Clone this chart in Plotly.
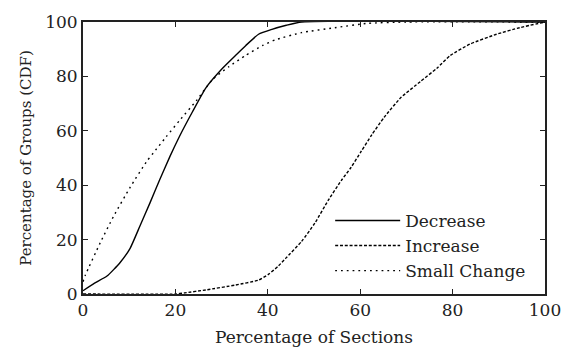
import plotly.graph_objects as go

dec_x = [0, 2.5, 5.2, 8.0, 10.2, 12.3, 14.5, 16.6, 18.8, 20.9, 23.7, 26.6, 30.2, 33.0, 35.2, 38.0, 40.9, 44.0, 47.3, 100]
dec_y = [1.2, 4.0, 6.6, 11.5, 16.8, 24.9, 33.5, 42.0, 50.5, 58.0, 67.0, 75.8, 83.0, 87.7, 91.3, 95.5, 97.3, 98.8, 100, 100]

inc_x = [0, 20.0, 22.0, 26.6, 33.0, 38.0, 40.2, 42.3, 43.8, 47.3, 50.2, 53.1, 55.9, 58.0, 60.2, 62.5, 65.2, 68.8, 73.1, 76.6, 79.5, 83.8, 89.5, 94.5, 100]
inc_y = [0, 0, 0.4, 1.5, 3.3, 5.1, 7.3, 10.3, 13.0, 19.3, 26.1, 34.5, 41.7, 46.5, 52.4, 58.5, 65.0, 72.2, 78.2, 83.0, 87.7, 91.9, 95.5, 97.9, 100]

sc_x = [0, 0.5, 3.75, 6.6, 10.2, 13.8, 15.2, 18.0, 20.9, 24.5, 28.0, 31.6, 35.2, 38.8, 41.6, 47.3, 54.5, 61.6, 70, 100]
sc_y = [4.5, 6.9, 18.9, 28.5, 39.2, 48.8, 51.8, 57.8, 63.8, 71.0, 78.8, 83.6, 87.7, 91.3, 93.4, 96.1, 97.9, 99.5, 100, 100]

x_ticks = [0, 20, 40, 60, 80, 100]
y_ticks = [0, 20, 40, 60, 80, 100]

FONT = "DejaVu Serif"
fig = go.Figure()
fig.add_trace(go.Scatter(x=dec_x, y=dec_y, mode="lines", name="Decrease",
                         line=dict(color="black", width=1.4, shape="spline", smoothing=0.5)))
fig.add_trace(go.Scatter(x=inc_x, y=inc_y, mode="lines", name="Increase",
                         line=dict(color="black", width=1.4, dash="3px,1.8px", shape="spline", smoothing=0.5)))
fig.add_trace(go.Scatter(x=sc_x, y=sc_y, mode="lines", name="Small Change",
                         line=dict(color="black", width=1.4, dash="1.8px,4px", shape="spline", smoothing=0.5)))

axis_common = dict(showline=True, linecolor="#222", linewidth=2, mirror="ticks",
                   ticks="inside", ticklen=5, tickwidth=1.2, tickcolor="#222",
                   showgrid=False, zeroline=False,
                   tickfont=dict(family=FONT, size=17, color="#222"))
fig.update_xaxes(range=[0, 100], tickvals=x_ticks,
                 title=dict(text="Percentage of Sections", font=dict(family=FONT, size=17, color="#222"), standoff=12),
                 **axis_common)
fig.update_yaxes(range=[0, 100], tickvals=y_ticks,
                 title=dict(text="Percentage of Groups (CDF)", font=dict(family=FONT, size=15, color="#222"), standoff=10),
                 **axis_common)

fig.update_layout(
    width=573, height=356,
    margin=dict(l=83, r=24, t=17, b=60),
    plot_bgcolor="white", paper_bgcolor="white",
    font=dict(family=FONT, size=17, color="#222"),
    legend=dict(x=0.535, y=0.335, xanchor="left", yanchor="top",
                bgcolor="rgba(0,0,0,0)", borderwidth=0,
                font=dict(family=FONT, size=17, color="#222"),
                itemwidth=65, tracegroupgap=0),
    showlegend=True,
)
fig.write_html("out.html")
